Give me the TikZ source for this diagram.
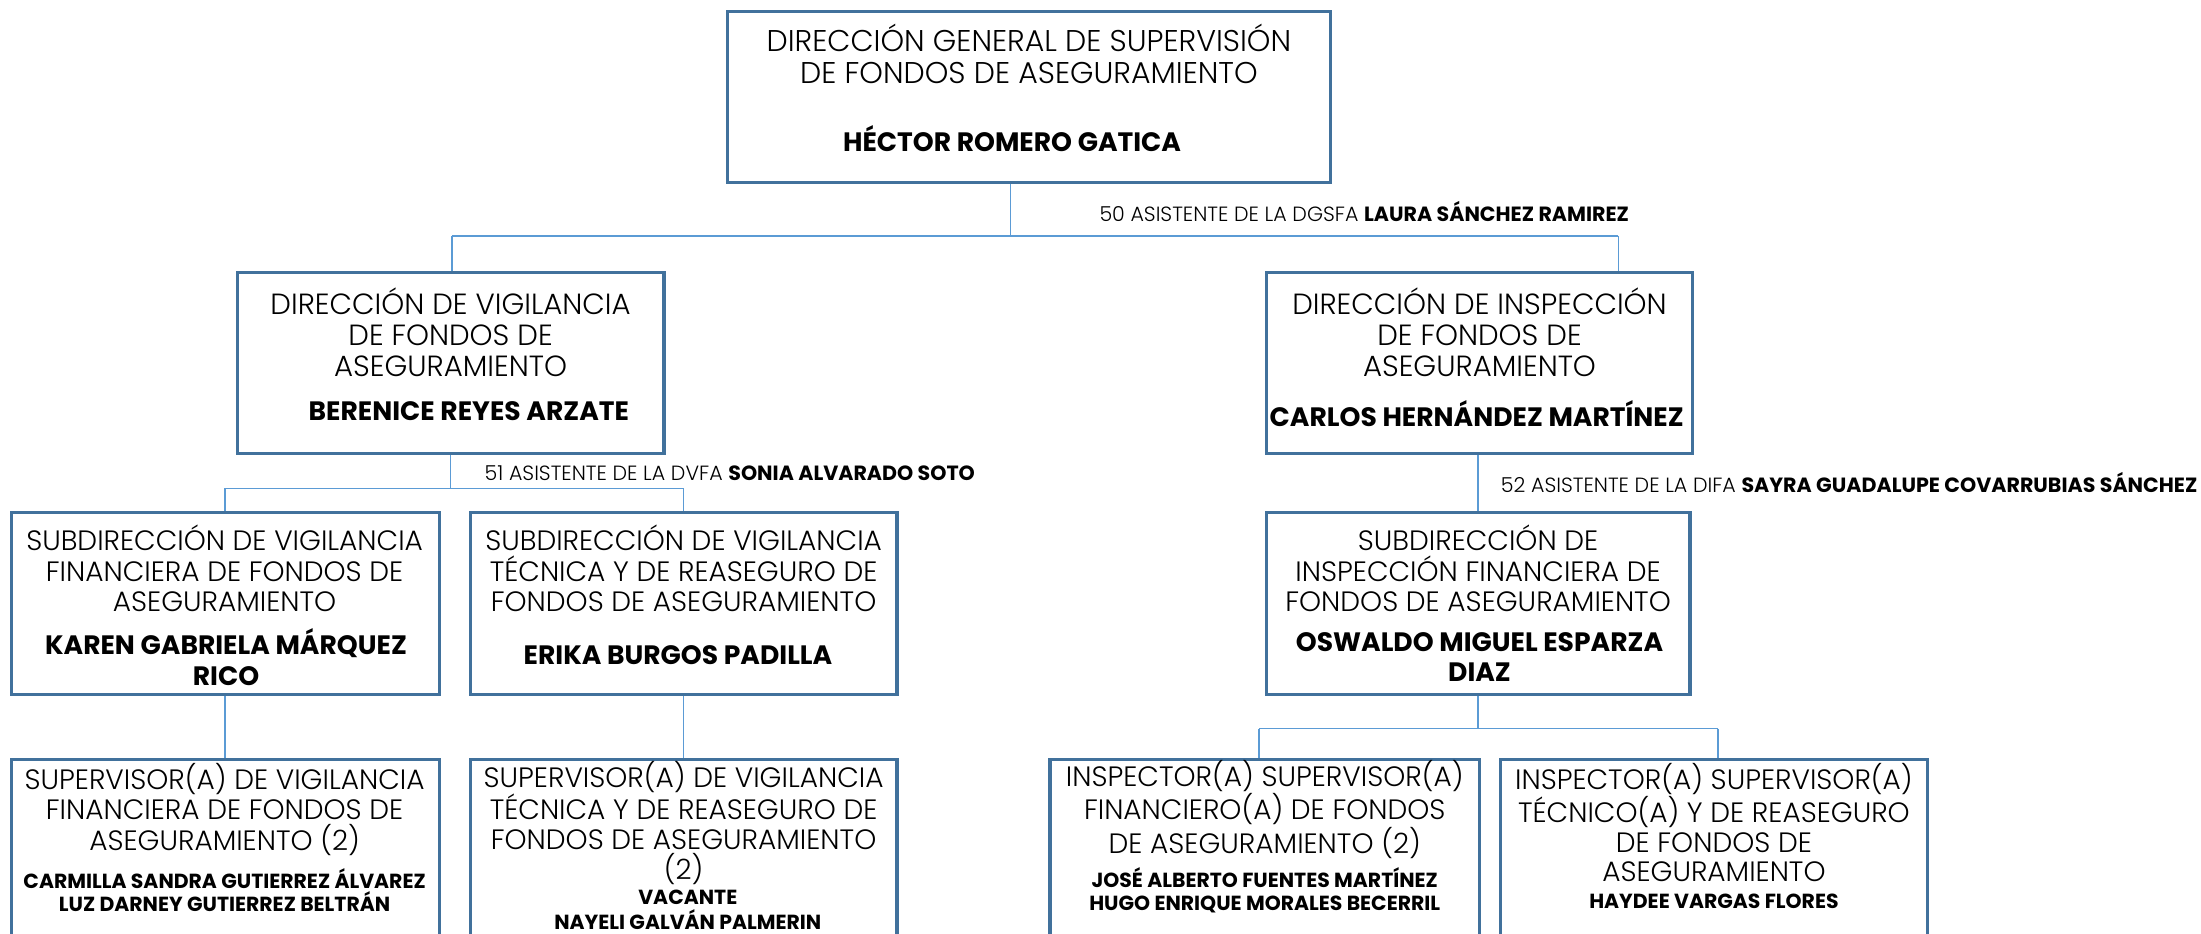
\documentclass[tikz,border=0pt]{standalone}
\usepackage{fontspec}
\setmainfont{Poppins}[UprightFont={Poppins Light},BoldFont={Poppins Bold}]
\definecolor{boxline}{HTML}{41719C}
\definecolor{conn}{HTML}{5B9BD5}
\begin{document}
\begin{tikzpicture}[x=0.70185pt,y=-0.70185pt,
  orgbox/.style={draw=boxline,line width=1.6pt,inner sep=0pt},
  ttltop/.style={align=center,font=\fontsize{15}{16.1}\selectfont,inner sep=0pt},
  ttldir/.style={align=center,font=\fontsize{14.6}{15.6}\selectfont,inner sep=0pt},
  ttl/.style={align=center,font=\fontsize{14}{15.2}\selectfont,inner sep=0pt},
  nm/.style={align=center,font=\fontsize{13.3}{15.4}\selectfont\bfseries,inner sep=0pt},
  nmsmall/.style={align=center,font=\fontsize{10.2}{11.4}\selectfont\bfseries,inner sep=0pt},
  asis/.style={anchor=west,font=\fontsize{10.3}{11}\selectfont,inner sep=0pt},
  cn/.style={draw=conn,line width=0.8pt}]
\useasboundingbox (0,0) rectangle (1568,665);
\clip (0,0) rectangle (1568,665);
% boxes
\node[orgbox,minimum width=430*0.70185pt,minimum height=122*0.70185pt] (topbox) at (733,69) {};
\node[orgbox,minimum width=304*0.70185pt,minimum height=129*0.70185pt] (ldir) at (321,258.5) {};
\node[orgbox,minimum width=304*0.70185pt,minimum height=129*0.70185pt] (rdir) at (1054,258.5) {};
\node[orgbox,minimum width=305*0.70185pt,minimum height=130*0.70185pt] (svf) at (160.5,430) {};
\node[orgbox,minimum width=304*0.70185pt,minimum height=130*0.70185pt] (svt) at (487,430) {};
\node[orgbox,minimum width=302*0.70185pt,minimum height=130*0.70185pt] (sif) at (1053,430) {};
\node[orgbox,minimum width=305*0.70185pt,minimum height=150*0.70185pt,anchor=north] (supvf) at (160.5,540) {};
\node[orgbox,minimum width=304*0.70185pt,minimum height=150*0.70185pt,anchor=north] (supvt) at (487,540) {};
\node[orgbox,minimum width=306*0.70185pt,minimum height=150*0.70185pt,anchor=north] (isf) at (901,540) {};
\node[orgbox,minimum width=304*0.70185pt,minimum height=150*0.70185pt,anchor=north] (ist) at (1221,540) {};
% texts
\node[ttltop] (t1) at (733,38.5) {DIRECCIÓN GENERAL DE SUPERVISIÓN\\DE FONDOS DE ASEGURAMIENTO};
\node[nm] (n1) at (721,99) {HÉCTOR ROMERO GATICA};
\node[ttldir] (t2) at (321,236.5) {DIRECCIÓN DE VIGILANCIA\\DE FONDOS DE\\ASEGURAMIENTO};
\node[nm] (n2) at (334,293) {BERENICE REYES ARZATE};
\node[ttldir] (t3) at (1054,236.5) {DIRECCIÓN DE INSPECCIÓN\\DE FONDOS DE\\ASEGURAMIENTO};
\node[nm] (n3) at (1052,295) {CARLOS HERNÁNDEZ MARTÍNEZ};
\node[ttl] (t4) at (160,405) {SUBDIRECCIÓN DE VIGILANCIA\\FINANCIERA DE FONDOS DE\\ASEGURAMIENTO};
\node[nm] (n4) at (161,468) {KAREN GABRIELA MÁRQUEZ\\RICO};
\node[ttl] (t5) at (487,405) {SUBDIRECCIÓN DE VIGILANCIA\\TÉCNICA Y DE REASEGURO DE\\FONDOS DE ASEGURAMIENTO};
\node[nm] (n5) at (483,467) {ERIKA BURGOS PADILLA};
\node[ttl] (t6) at (1053,405) {SUBDIRECCIÓN DE\\INSPECCIÓN FINANCIERA DE\\FONDOS DE ASEGURAMIENTO};
\node[nm] (n6) at (1054,468) {OSWALDO MIGUEL ESPARZA\\DIAZ};
\node[ttl] (t7) at (160,576.5) {SUPERVISOR(A) DE VIGILANCIA\\FINANCIERA DE FONDOS DE\\ASEGURAMIENTO (2)};
\node[nmsmall] (n7) at (160,634) {CARMILLA SANDRA GUTIERREZ ÁLVAREZ\\LUZ DARNEY GUTIERREZ BELTRÁN};
\node[ttl,font=\fontsize{14}{14.8}\selectfont] (t8) at (487,586) {SUPERVISOR(A) DE VIGILANCIA\\TÉCNICA Y DE REASEGURO DE\\FONDOS DE ASEGURAMIENTO\\(2)};
\node[nmsmall,font=\fontsize{10.2}{12.6}\selectfont\bfseries] (n8) at (490,648) {VACANTE\\NAYELI GALVÁN PALMERIN};
\node[ttl] (t9) at (901,576.5) {INSPECTOR(A) SUPERVISOR(A)\\FINANCIERO(A) DE FONDOS\\DE ASEGURAMIENTO (2)};
\node[nmsmall] (n9) at (901,634) {JOSÉ ALBERTO FUENTES MARTÍNEZ\\HUGO ENRIQUE MORALES BECERRIL};
\node[ttl,font=\fontsize{14}{14.8}\selectfont] (t10) at (1221,586) {INSPECTOR(A) SUPERVISOR(A)\\TÉCNICO(A) Y DE REASEGURO\\DE FONDOS DE\\ASEGURAMIENTO};
\node[nmsmall] (n10) at (1221,642) {HAYDEE VARGAS FLORES};
% assistants
\node[asis] (a50) at (783,151) {50 ASISTENTE DE LA DGSFA \textbf{LAURA SÁNCHEZ RAMIREZ}};
\node[asis] (a51) at (345,337) {51 ASISTENTE DE LA DVFA \textbf{SONIA ALVARADO SOTO}};
\node[asis] (a52) at (1069,344) {52 ASISTENTE DE LA DIFA \textbf{SAYRA GUADALUPE COVARRUBIAS SÁNCHEZ}};
% connector coordinates
\coordinate (j0) at (720,168);
\coordinate (j0l) at (322,168);
\coordinate (j0r) at (1153,168);
\coordinate (j1) at (321,348);
\coordinate (j1l) at (160.5,348);
\coordinate (j1r) at (487,348);
\coordinate (j2) at (1053,519);
\coordinate (j2l) at (897,519);
\coordinate (j2r) at (1224,519);
% connectors
\draw[cn] (topbox.south -| j0) -- (j0);
\draw[cn] (j0l) -- (j0r);
\draw[cn] (j0l) -- (ldir.north -| j0l);
\draw[cn] (j0r) -- (rdir.north -| j0r);
\draw[cn] (ldir.south -| j1) -- (j1);
\draw[cn] (j1l) -- (j1r);
\draw[cn] (j1l) -- (svf.north -| j1l);
\draw[cn] (j1r) -- (svt.north -| j1r);
\draw[cn] (rdir.south -| sif.north) -- (sif.north);
\draw[cn] (svf.south) -- (supvf.north);
\draw[cn] (svt.south) -- (supvt.north);
\draw[cn] (sif.south -| j2) -- (j2);
\draw[cn] (j2l) -- (j2r);
\draw[cn] (j2l) -- (isf.north -| j2l);
\draw[cn] (j2r) -- (ist.north -| j2r);
\end{tikzpicture}
\end{document}
